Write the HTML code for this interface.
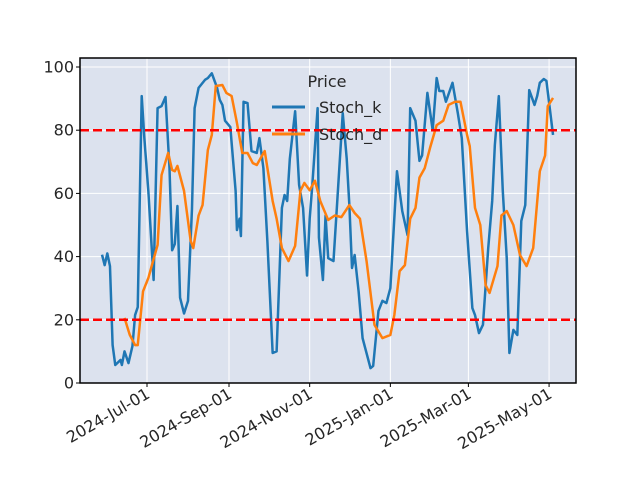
<!DOCTYPE html>
<html><head><meta charset="utf-8"><style>
html,body{margin:0;padding:0;background:#fff;}
svg{display:block;font-family:"DejaVu Sans","Liberation Sans",sans-serif;}
</style></head><body>
<svg id="chart" width="640" height="480" viewBox="0 0 640 480" xmlns="http://www.w3.org/2000/svg">
<rect x="80" y="58" width="496" height="325" fill="#dce2ee"/>
<g id="grid"></g>
<g id="series"></g>
<rect x="80" y="58" width="496" height="325" fill="none" stroke="#000" stroke-width="1.5"/>
<g id="yticks"></g>
<g id="xticks"></g>
<g>
<text x="327" y="87" font-size="16" text-anchor="middle" fill="#262626">Price</text>
<line x1="272" y1="107" x2="305" y2="107" stroke="#1f77b4" stroke-width="3"/>
<text x="319" y="113" font-size="16" fill="#262626">Stoch_k</text>
<line x1="272" y1="134" x2="305" y2="134" stroke="#ff7f0e" stroke-width="3"/>
<text x="319" y="140" font-size="16" fill="#262626">Stoch_d</text>
</g>
</svg>
<script>
// days since 2024-07-01
const kDays=[-34,-32,-30,-28,-26,-24,-20,-19,-17,-14,-11,-9,-7,-4,-2,1,5,8,11,14,17,19,21,23,25,28,31,34,36,39,44,46,49,53,55,57,59,63,67,68,70,71,73,76,79,83,85,88,91,95,98,102,104,106,108,112,115,118,121,123,125,129,130,133,135,137,141,144,148,151,153,155,157,160,163,165,169,171,175,178,181,184,189,193,197,199,203,206,208,212,216,219,221,224,226,231,235,238,242,246,248,251,254,258,261,263,266,269,272,274,277,280,283,286,289,293,295,297,300,302,307];
const kValues=[40.6,37.3,41,37,12,5.7,7.3,5.7,10,6.3,11.7,21.5,24,90.8,77.5,60.8,32.6,87,87.6,90.5,68,42,44,56,27,22,26,55,87,93.4,96,96.5,98,93.4,89.6,88,83,81,60.8,48.4,52,46.5,89,88.6,73.4,72.8,77.5,68,45,9.5,10,55.4,59.5,57.6,71,86,62.7,55.4,34,52,62.7,87,46,32.6,53,39.5,38.6,58.5,85.4,71,56.3,36.4,40.5,29,14.2,11,4.7,5.4,22.8,26,25.3,30,67,54.4,46.8,87,83,70.3,72,91.8,80,96.5,92.4,92.4,89,95,85.4,77.5,48,23.7,21.5,15.8,18.4,42.7,57.6,75.3,90.8,60.8,39.5,9.5,16.8,15.2,51.3,56.3,92.7,88,90.8,95,96.2,95.6,78.5];
const dDays=[-17,-13,-9,-7,-3,1,8,11,16,19,21,23,28,33,35,39,42,46,49,52,57,60,64,68,72,76,80,83,89,95,98,102,107,112,116,119,123,127,131,137,142,147,153,157,161,166,172,178,184,187,191,195,199,203,206,210,214,219,224,228,233,237,242,244,248,252,256,259,265,268,272,277,282,287,292,297,301,303,307];
const dValues=[20.6,15.2,12,12,29,33.2,43.7,65.8,72.8,67.4,67,68.7,60.8,45,42.7,53,56.3,73.7,78.5,94,94.3,91.8,90.8,82.3,72.8,72.8,69.6,69,73.4,57.6,52,42.7,38.6,43.4,60.8,63.3,61,64,57.6,51.6,53,52.5,56.3,53.8,52,38.6,18.4,14.2,15.2,21.5,35.4,37.3,52,55.4,65,68,74.4,81.6,83,88,89,89,78.5,75,55.4,50,31,28.5,37,53,54.4,50,40.5,37,42.7,67,72,87.6,90.2];
const yTicks=[0,20,40,60,80,100];
const xTickDays=[0,62,123,184,243,304];
const xTickLabels=["2024-Jul-01","2024-Sep-01","2024-Nov-01","2025-Jan-01","2025-Mar-01","2025-May-01"];
const thresholds=[80,20];

const NS="http://www.w3.org/2000/svg";
const X=d=>147+d*1.3226;
const Y=v=>383-v*3.16;
function mk(tag,attrs,parent){const e=document.createElementNS(NS,tag);for(const k in attrs)e.setAttribute(k,attrs[k]);parent.appendChild(e);return e;}
const grid=document.getElementById('grid'),series=document.getElementById('series'),yt=document.getElementById('yticks'),xt=document.getElementById('xticks');
yTicks.forEach(v=>{
  const g=mk('line',{x1:80,x2:576,y1:Y(v),y2:Y(v),stroke:'#fff','stroke-width':1},grid);
  
  
  const t=mk('line',{x1:76,x2:80,y1:Y(v),y2:Y(v),stroke:'#000','stroke-width':1},yt);
  
  
  const l=mk('text',{x:74,y:Y(v)+5.5,'font-size':16,'text-anchor':'end',fill:'#262626'},yt);
  l.textContent=v;
  
  
});
xTickDays.forEach((d,i)=>{
  const g=mk('line',{x1:X(d),x2:X(d),y1:58,y2:383,stroke:'#fff','stroke-width':1},grid);
  
  
  const t=mk('line',{x1:X(d),x2:X(d),y1:383,y2:387,stroke:'#000','stroke-width':1},xt);
  
  
  const l=mk('text',{x:X(d)+4,y:397,'font-size':16,'text-anchor':'end',fill:'#262626',transform:`rotate(-30 ${X(d)+4} 397)`},xt);
  l.textContent=xTickLabels[i];
  
  
});
function line(days,vals,color,name){
  const p=mk('polyline',{points:days.map((d,i)=>X(d)+','+Y(vals[i])).join(' '),fill:'none',stroke:color,'stroke-width':2.5,'stroke-linejoin':'round'},series);
  
  
}
line(kDays,kValues,'#1f77b4','stoch-k-line');
line(dDays,dValues,'#ff7f0e','stoch-d-line');
thresholds.forEach(v=>{
  const h=mk('line',{x1:80,x2:576,y1:Y(v),y2:Y(v),stroke:'#ff0000','stroke-width':2.5,'stroke-dasharray':'9,4'},series);
  
  
});
</script>
</body></html>
